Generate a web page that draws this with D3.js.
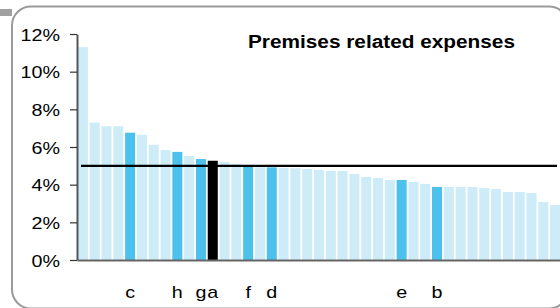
<!DOCTYPE html>
<html>
<head>
<meta charset="utf-8">
<script src="https://cdn.jsdelivr.net/npm/d3@7"></script>
<style>
  html, body { margin: 0; padding: 0; background: #fff; }
  svg { display: block; font-family: "Liberation Sans", Arial, sans-serif; }
</style>
</head>
<body>
<svg id="chart" width="560" height="308"></svg>
<script>
// ---- data ----
const title = "Premises related expenses";
const values = [11.3, 7.3, 7.1, 7.1, 6.76, 6.65, 6.12, 5.84, 5.74, 5.52, 5.36, 5.27, 5.2, 5.1, 4.97,
  4.92, 4.92, 4.89, 4.87, 4.83, 4.78, 4.73, 4.73, 4.57, 4.41, 4.35, 4.25, 4.25, 4.14, 4.04,
  3.88, 3.88, 3.88, 3.88, 3.82, 3.77, 3.61, 3.61, 3.56, 3.08, 2.92];
const labels = ["", "", "", "", "c", "", "", "", "h", "", "g", "a", "", "", "f",
  "", "d", "", "", "", "", "", "", "", "", "", "", "e", "", "",
  "b", "", "", "", "", "", "", "", "", "", ""];
const kinds = ["o", "o", "o", "o", "p", "o", "o", "o", "p", "o", "p", "s", "o", "o", "p",
  "o", "p", "o", "o", "o", "o", "o", "o", "o", "o", "o", "o", "p", "o", "o",
  "p", "o", "o", "o", "o", "o", "o", "o", "o", "o", "o"];
const benchmark = 5;
const yTicks = [0, 2, 4, 6, 8, 10, 12];

// ---- drawing ----
const svg = d3.select("#chart");
const colors = { o: "#cdecf8", p: "#4bc1ec", s: "#000000" };
const stretch = 1.16;

// frame
svg.append("rect").attr("x", 12).attr("y", 6.5).attr("width", 556).attr("height", 302)
  .attr("rx", 19).attr("ry", 19).attr("fill", "#fff").attr("stroke", "#9a9a9a").attr("stroke-width", 2);
svg.append("rect").attr("x", 0).attr("y", 9).attr("width", 12).attr("height", 7).attr("fill", "#a0a0a0");

const x = d3.scaleBand().domain(d3.range(values.length)).range([77, 561])
  .paddingInner(0.15).paddingOuter(0.075);
const y = d3.scaleLinear().domain([0, 12]).range([260, 34]);

// bars
svg.append("g").selectAll("rect").data(values).join("rect")
  .attr("x", (d, i) => x(i))
  .attr("width", x.bandwidth())
  .attr("y", d => y(d))
  .attr("height", d => y(0) - y(d))
  .attr("fill", (d, i) => colors[kinds[i]]);

// benchmark line
svg.append("line")
  .attr("x1", x.range()[0] + 4).attr("x2", x.range()[1] - 4)
  .attr("y1", y(benchmark)).attr("y2", y(benchmark))
  .attr("stroke", "#000").attr("stroke-width", 2.2);

// y axis
const yAxis = svg.append("g").attr("transform", "translate(77,0)")
  .call(d3.axisLeft(y).tickValues(yTicks).tickSize(7).tickSizeOuter(0).tickFormat(d => d + "%"));
yAxis.select(".domain").attr("stroke", "#555").attr("stroke-width", 2);
yAxis.selectAll(".tick line").attr("stroke", "#333").attr("stroke-width", 1.2);
yAxis.selectAll(".tick text").each(function () {
  const t = d3.select(this);
  t.attr("x", null).attr("dy", null);
});
yAxis.selectAll(".tick text")
  .attr("transform", `translate(-17,0) scale(${stretch},1)`)
  .attr("x", 0).attr("dy", "0.36em")
  .attr("font-size", 17).attr("fill", "#000")
  .attr("font-family", "'Liberation Sans', Arial, sans-serif");

// x axis
const xAxis = svg.append("g").attr("transform", `translate(0,${y(0)})`)
  .call(d3.axisBottom(x).tickSize(0).tickSizeOuter(0).tickFormat(i => labels[i]));
xAxis.select(".domain").attr("stroke", "#666").attr("stroke-width", 2);
xAxis.selectAll(".tick text")
  .attr("y", 0).attr("dy", null)
  .attr("transform", `translate(0,38) scale(${stretch},1)`)
  .attr("font-size", 17).attr("fill", "#000")
  .attr("font-family", "'Liberation Sans', Arial, sans-serif");

// title
svg.append("text").attr("x", 248).attr("y", 48)
  .attr("font-size", 18).attr("font-weight", "bold").attr("fill", "#000")
  .attr("textLength", 267).attr("lengthAdjust", "spacingAndGlyphs")
  .text(title);
</script>
</body>
</html>
